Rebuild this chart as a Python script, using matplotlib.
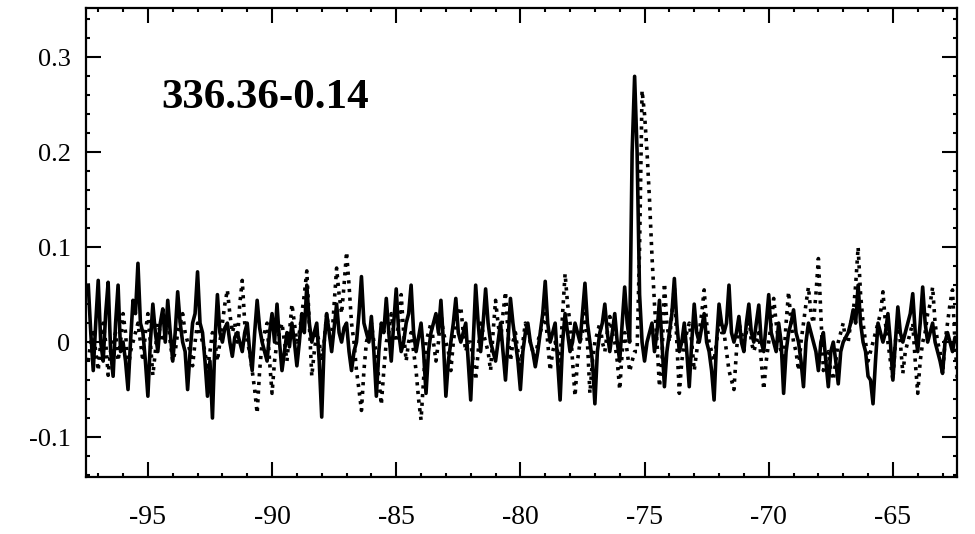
import matplotlib
matplotlib.use("Agg")
import matplotlib.pyplot as plt
import numpy as np
from matplotlib.ticker import MultipleLocator

plt.rcParams['font.family'] = ['Liberation Serif', 'DejaVu Serif']

# channel velocities (km/s), 0.1 km/s spacing
v_start = -97.4
v_step = 0.1

# solid spectrum, one value per channel (rows of 2 km/s)
solid = [
    0.06, 0.01, -0.03, 0.02, 0.065, 0.0, -0.02, 0.03, 0.063, -0.01, -0.036, 0.02, 0.06, -0.01, 0.0, -0.02, -0.05, 0.0, 0.044, 0.03,
    0.083, 0.02, 0.01, -0.02, -0.057, 0.0, 0.04, 0.01, -0.01, 0.02, 0.035, 0.0, 0.044, 0.01, -0.02, 0.01, 0.053, 0.02, 0.0, -0.01,
    -0.05, -0.01, 0.02, 0.03, 0.074, 0.02, 0.01, -0.02, -0.057, -0.02, -0.08, 0.0, 0.05, 0.01, 0.0, 0.015, 0.02, 0.0, -0.015, 0.005,
    0.01, 0.0, -0.01, 0.01, 0.02, -0.01, -0.03, 0.01, 0.044, 0.015, 0.0, -0.01, -0.02, 0.01, 0.03, 0.0, 0.04, 0.0, -0.03, -0.01,
    0.01, -0.005, 0.02, 0.0, -0.025, 0.0, 0.03, 0.01, 0.06, 0.02, 0.0, 0.01, 0.02, -0.02, -0.079, 0.0, 0.03, 0.01, -0.01, 0.015,
    0.04, 0.01, 0.0, 0.015, 0.02, -0.01, -0.03, -0.01, 0.0, 0.03, 0.069, 0.02, 0.01, 0.0, 0.027, -0.01, -0.057, -0.01, 0.02, 0.01,
    0.046, 0.01, -0.02, 0.02, 0.056, 0.01, -0.01, 0.0, 0.02, 0.03, 0.06, 0.01, -0.01, 0.005, 0.02, -0.01, -0.054, -0.01, 0.01, 0.02,
    0.03, 0.01, 0.044, 0.0, -0.057, -0.02, 0.0, 0.02, 0.046, 0.01, 0.0, 0.01, 0.02, -0.02, -0.061, 0.0, 0.06, 0.02, -0.01, 0.02,
    0.056, 0.02, 0.0, -0.01, -0.02, 0.0, 0.02, -0.01, -0.04, 0.0, 0.046, 0.02, 0.0, -0.02, -0.05, -0.01, 0.01, 0.02, 0.0, -0.01,
    -0.026, -0.01, 0.01, 0.03, 0.064, 0.02, 0.0, 0.01, 0.02, -0.02, -0.061, 0.0, 0.03, 0.01, -0.01, 0.0, 0.02, 0.01, 0.0, 0.03,
    0.062, 0.02, 0.0, -0.02, -0.065, -0.01, 0.01, 0.02, 0.04, 0.01, -0.01, 0.01, 0.03, 0.0, -0.02, 0.02, 0.058, 0.02, 0.0, 0.2,
    0.28, 0.2, 0.05, 0.0, -0.02, 0.0, 0.01, 0.02, -0.01, 0.01, 0.044, 0.0, -0.047, -0.01, 0.01, 0.03, 0.067, 0.02, -0.01, 0.0,
    0.02, -0.01, -0.047, 0.0, 0.04, 0.01, 0.0, 0.015, 0.03, 0.0, -0.01, -0.03, -0.061, 0.0, 0.04, 0.02, 0.01, 0.02, 0.06, 0.01,
    0.0, 0.01, 0.027, 0.0, -0.01, 0.02, 0.04, 0.01, 0.0, 0.02, 0.039, 0.0, -0.01, 0.02, 0.05, 0.01, 0.0, -0.01, 0.02, 0.0,
    -0.054, -0.01, 0.01, 0.02, 0.034, 0.01, 0.0, -0.02, -0.047, 0.0, 0.02, 0.01, 0.0, -0.01, -0.03, 0.0, 0.01, -0.02, -0.047, -0.01,
    0.0, -0.02, -0.044, -0.01, 0.0, 0.005, 0.01, 0.02, 0.034, 0.02, 0.06, 0.02, 0.0, -0.01, -0.036, -0.04, -0.065, -0.02, 0.02, 0.01,
    0.0, 0.01, 0.03, 0.0, -0.04, 0.0, 0.037, 0.01, 0.0, 0.01, 0.02, 0.03, 0.051, 0.01, -0.01, 0.02, 0.058, 0.02, 0.0, 0.01,
    0.02, 0.0, -0.01, -0.02, -0.033, 0.0, 0.01, 0.0, -0.01, 0.005, 0.0,
]

# dotted spectrum, one value per channel (rows of 2 km/s)
dotted = [
    -0.02, 0.0, 0.01, -0.01, -0.03, 0.0, 0.02, 0.0, -0.035, -0.01, 0.0, 0.01, -0.02, 0.0, 0.03, 0.01, -0.03, -0.01, 0.0, 0.01,
    0.02, 0.0, -0.02, 0.01, 0.03, 0.0, -0.035, -0.01, 0.02, 0.01, 0.0, 0.01, 0.025, 0.0, -0.02, -0.01, 0.01, 0.02, 0.03, 0.01,
    0.0, -0.01, -0.025, 0.0, 0.02, 0.01, 0.0, -0.01, -0.03, -0.01, 0.01, 0.0, -0.02, 0.0, 0.02, 0.04, 0.055, 0.03, 0.01, 0.02,
    0.0, 0.04, 0.065, 0.02, 0.0, -0.01, -0.03, -0.05, -0.075, -0.03, 0.0, 0.01, 0.02, -0.02, -0.054, -0.02, 0.0, 0.01, 0.02, 0.0,
    -0.02, 0.01, 0.04, 0.02, 0.0, 0.01, 0.03, 0.05, 0.075, 0.02, -0.036, -0.01, 0.01, 0.0, -0.02, 0.0, 0.03, 0.01, 0.0, 0.04,
    0.078, 0.05, 0.03, 0.06, 0.095, 0.06, 0.02, 0.0, -0.03, -0.05, -0.072, -0.03, 0.0, 0.01, 0.02, 0.0, -0.01, -0.04, -0.066, -0.03,
    0.0, 0.01, 0.03, 0.01, 0.0, 0.02, 0.05, 0.01, -0.02, 0.0, 0.01, -0.01, -0.03, -0.06, -0.082, -0.04, 0.0, 0.01, 0.02, 0.0,
    -0.02, 0.0, 0.03, 0.01, 0.0, -0.01, -0.03, 0.0, 0.02, 0.03, 0.037, 0.01, -0.01, 0.0, 0.0, -0.02, -0.04, -0.01, 0.02, 0.01,
    0.0, -0.01, -0.03, 0.01, 0.044, 0.02, 0.0, 0.03, 0.053, 0.01, -0.02, 0.0, 0.01, -0.01, -0.03, 0.0, 0.02, 0.01, 0.0, -0.01,
    -0.02, 0.0, 0.01, 0.02, 0.03, 0.0, -0.03, -0.01, 0.0, -0.01, -0.02, 0.03, 0.072, 0.04, 0.02, -0.02, -0.057, -0.02, 0.0, 0.01,
    0.03, 0.0, -0.054, -0.02, 0.0, 0.01, 0.02, 0.0, -0.01, 0.01, 0.027, 0.01, 0.0, -0.02, -0.05, -0.01, 0.01, -0.01, -0.031, -0.02,
    -0.01, -0.01, 0.1, 0.265, 0.24, 0.2, 0.15, 0.09, 0.04, 0.0, -0.047, -0.02, 0.062, 0.02, 0.0, 0.03, 0.058, 0.0, -0.054, -0.02,
    0.0, 0.01, 0.02, 0.0, -0.03, -0.01, 0.01, 0.03, 0.055, 0.02, 0.0, -0.01, -0.02, 0.0, 0.02, 0.01, 0.01, -0.01, -0.03, -0.04,
    -0.05, -0.01, 0.02, 0.01, 0.0, 0.01, 0.03, 0.0, -0.01, 0.0, 0.01, -0.02, -0.05, -0.02, 0.0, 0.02, 0.046, 0.02, 0.0, -0.01,
    -0.02, 0.02, 0.053, 0.02, 0.0, -0.01, -0.03, 0.0, 0.02, 0.04, 0.058, 0.03, 0.02, 0.05, 0.088, 0.03, -0.03, -0.02, -0.01, -0.03,
    -0.04, -0.02, 0.0, 0.01, 0.02, 0.0, 0.0, 0.02, 0.03, 0.06, 0.1, 0.05, 0.02, 0.0, -0.02, -0.01, 0.0, 0.01, 0.02, 0.03,
    0.053, 0.02, 0.0, -0.02, -0.04, 0.0, 0.02, 0.0, -0.033, -0.01, 0.0, 0.01, 0.02, -0.02, -0.054, -0.02, 0.0, 0.01, 0.03, 0.04,
    0.058, 0.02, 0.0, -0.01, -0.033, 0.0, 0.02, 0.04, 0.055, 0.0, -0.04,
]

source_name = '336.36-0.14'

velocity = v_start + v_step * np.arange(len(solid))

fig = plt.figure(figsize=(9.75, 5.34), dpi=100)
ax = fig.add_axes([0.088, 0.107, 0.894, 0.878])

ax.plot(velocity, solid, color='black', lw=2.6)
ax.plot(velocity, dotted, color='black', lw=2.6, linestyle=(0, (0.9, 1.5)))

ax.set_xlim(-97.5, -62.4)
ax.set_ylim(-0.142, 0.352)

ax.xaxis.set_major_locator(MultipleLocator(5))
ax.xaxis.set_minor_locator(MultipleLocator(1))
ax.yaxis.set_major_locator(MultipleLocator(0.1))
ax.yaxis.set_minor_locator(MultipleLocator(0.02))

ax.tick_params(which='both', direction='in', top=True, right=True, width=1.5, color='black')
ax.tick_params(which='major', length=11)
ax.tick_params(which='minor', length=3)
ax.tick_params(axis='x', labelsize=20, pad=20)
ax.tick_params(axis='y', labelsize=19, pad=11)

ax.set_xticks([-95, -90, -85, -80, -75, -70, -65])
ax.set_xticklabels(['-95', '-90', '-85', '-80', '-75', '-70', '-65'])
ax.set_yticks([-0.1, 0, 0.1, 0.2, 0.3])
ax.set_yticklabels(['-0.1', '0', '0.1', '0.2', '0.3'])

for sp in ax.spines.values():
    sp.set_linewidth(1.6)

ax.text(-94.45, 0.257, source_name, fontsize=31, fontweight='bold', va='center', ha='left')

fig.savefig('out.png', dpi=100)
